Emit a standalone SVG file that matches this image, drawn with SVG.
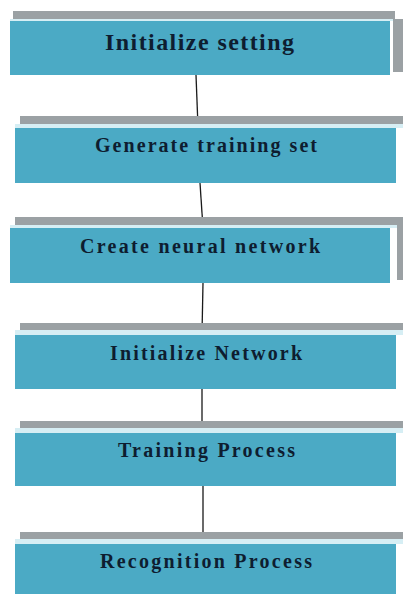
<svg xmlns="http://www.w3.org/2000/svg" width="403" height="594" viewBox="0 0 403 594">
<style>
.bar{fill:#9ba1a4}
.shadow{fill:#9ba1a4}
.box{fill:#4baac5}
.hl{fill:#d6eef4}
.lbl{font-family:"Liberation Serif","Times New Roman",serif;font-weight:bold;fill:#0e1d30;text-anchor:start}
.conn{stroke:#1a1a1a;stroke-width:1.3;fill:none}
</style>
<rect width="403" height="594" fill="#ffffff"/>
<g id="connectors">
<line class="conn" x1="196" y1="75" x2="198" y2="127"/>
<line class="conn" x1="200" y1="183" x2="203" y2="228"/>
<line class="conn" x1="203" y1="283" x2="202" y2="334"/>
<line class="conn" x1="202" y1="389" x2="202" y2="433"/>
<line class="conn" x1="203" y1="486" x2="203" y2="539"/>
</g>
<g id="n1">
<rect class="bar" x="13" y="11" width="382" height="8"/>
<rect class="hl" x="10" y="19" width="383" height="2"/>
<rect class="shadow" x="393" y="19" width="10" height="53"/>
<rect class="box" x="10" y="21" width="380" height="54"/>
<text class="lbl" x="105" y="50" font-size="24" textLength="189" lengthAdjust="spacing">Initialize setting</text>
</g>
<g id="n2">
<rect class="bar" x="20" y="116" width="383" height="8"/>
<rect class="hl" x="15" y="124" width="388" height="4"/>
<rect class="box" x="15" y="128" width="381" height="55"/>
<text class="lbl" x="95" y="152" font-size="20" textLength="222" lengthAdjust="spacing">Generate training set</text>
</g>
<g id="n3">
<rect class="bar" x="15" y="217" width="388" height="8"/>
<rect class="hl" x="10" y="225" width="387" height="3"/>
<rect class="shadow" x="397" y="225" width="6" height="55"/>
<rect class="box" x="10" y="228" width="380" height="55"/>
<text class="lbl" x="80" y="253" font-size="20" textLength="240" lengthAdjust="spacing">Create neural network</text>
</g>
<g id="n4">
<rect class="bar" x="20" y="323" width="383" height="7"/>
<rect class="hl" x="15" y="330" width="388" height="5"/>
<rect class="box" x="15" y="335" width="381" height="54"/>
<text class="lbl" x="110" y="360" font-size="20" textLength="192" lengthAdjust="spacing">Initialize Network</text>
</g>
<g id="n5">
<rect class="bar" x="20" y="421" width="383" height="7"/>
<rect class="hl" x="15" y="428" width="388" height="5"/>
<rect class="box" x="15" y="433" width="381" height="53"/>
<text class="lbl" x="118" y="457" font-size="20" textLength="177" lengthAdjust="spacing">Training Process</text>
</g>
<g id="n6">
<rect class="bar" x="20" y="532" width="383" height="7"/>
<rect class="hl" x="15" y="539" width="388" height="5"/>
<rect class="box" x="15" y="544" width="381" height="50"/>
<text class="lbl" x="100" y="568" font-size="20" textLength="212" lengthAdjust="spacing">Recognition Process</text>
</g>
</svg>
